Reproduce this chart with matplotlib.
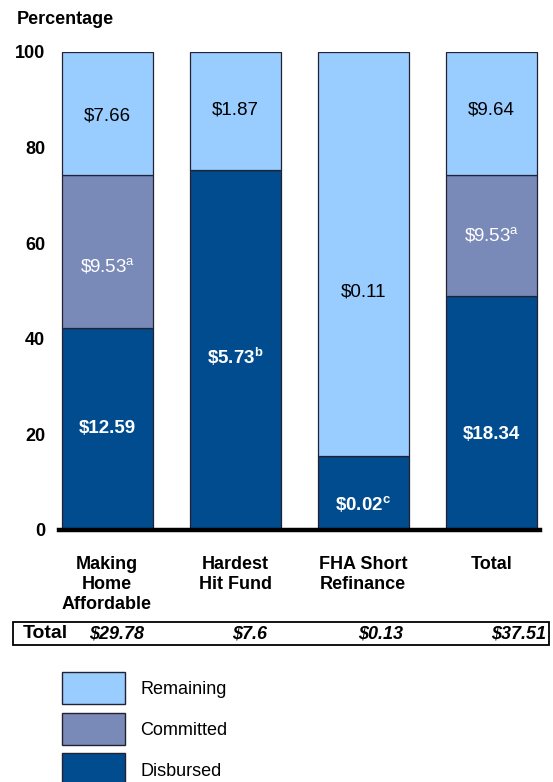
import matplotlib.pyplot as plt
from matplotlib.patches import Rectangle

plt.rcParams['font.family'] = ['Liberation Sans', 'DejaVu Sans']
plt.rcParams['mathtext.fontset'] = 'custom'
plt.rcParams['mathtext.rm'] = 'Liberation Sans'
plt.rcParams['mathtext.bf'] = 'Liberation Sans:bold'

programs = ['Making\nHome\nAffordable', 'Hardest\nHit Fund', 'FHA Short\nRefinance', 'Total']
disbursed = [12.59, 5.73, 0.02, 18.34]
committed = [9.53, 0.0, 0.0, 9.53]
remaining = [7.66, 1.87, 0.11, 9.64]
totals = ['$29.78', '$7.6', '$0.13', '$37.51']
notes_disbursed = ['', 'b', 'c', '']
notes_committed = ['a', '', '', 'a']

c_rem = '#99ccff'
c_com = '#7a8ab8'
c_dis = '#004c8f'

# where each label sits inside its segment (percent)
lab_dis = [21.3, 36.2, 5.2, 19.9]
lab_com = [55.0, None, None, 61.5]
lab_rem = [86.6, 87.9, 49.8, 87.9]


def money(v, note, bold=False):
    s = '\\$%.2f' % v
    if note:
        s += r'$^{\mathbf{%s}}$' % note if bold else r'$^{\mathrm{%s}}$' % note
    return s


fig = plt.figure(figsize=(5.53, 7.82), dpi=100)
ax = fig.add_axes([59 / 553, 252 / 782, 481 / 553, 478 / 782])

x = range(len(programs))
sums = [d + c + r for d, c, r in zip(disbursed, committed, remaining)]
p_dis = [d / s * 100 for d, s in zip(disbursed, sums)]
p_com = [c / s * 100 for c, s in zip(committed, sums)]
p_rem = [r / s * 100 for r, s in zip(remaining, sums)]
b_com = p_dis
b_rem = [a + b for a, b in zip(p_dis, p_com)]

w = 0.71
kw = dict(width=w, edgecolor='#222233', linewidth=0.9)
ax.bar(x, p_dis, color=c_dis, **kw)
ax.bar(x, p_com, bottom=b_com, color=c_com, **kw)
ax.bar(x, p_rem, bottom=b_rem, color=c_rem, **kw)

for i in x:
    ax.text(i, lab_dis[i], money(disbursed[i], notes_disbursed[i], True), ha='center', va='center',
            color='white', fontsize=13.5, fontweight='bold')
    if committed[i] > 0:
        ax.text(i, lab_com[i], money(committed[i], notes_committed[i]), ha='center', va='center',
                color='white', fontsize=13.5)
    ax.text(i, lab_rem[i], money(remaining[i], ''), ha='center', va='center',
            color='black', fontsize=13.5)

ax.set_xlim(-0.375, 3.38)
ax.set_ylim(0, 100)
ax.set_yticks([0, 20, 40, 60, 80, 100])
ax.tick_params(axis='y', length=0, pad=10, labelsize=13)
for lab in ax.get_yticklabels():
    lab.set_fontweight('bold')
ax.set_xticks([])
for s in ['top', 'right', 'left']:
    ax.spines[s].set_visible(False)
ax.spines['bottom'].set_linewidth(3.2)
ax.spines['bottom'].set_color('black')

fig.text(17 / 553, 1 - 19 / 782, 'Percentage', fontsize=13, fontweight='bold', va='center')

# program names under the bars
for i in x:
    ax.annotate(programs[i], (i, 0), xycoords='data', xytext=(0, -19), textcoords='offset points',
                ha='center', va='top', fontsize=13, fontweight='bold', linespacing=1.22)

# totals row
fig.patches.append(Rectangle((13 / 553, 1 - 645 / 782), 536 / 553, 23 / 782,
                             transform=fig.transFigure, fill=False, edgecolor='black', linewidth=1.3))
fig.text(23 / 553, 1 - 634 / 782, 'Total', fontsize=14, fontweight='bold', va='center')
tot_x = [117, 250, 381, 519]
for tx, t in zip(tot_x, totals):
    fig.text(tx / 553, 1 - 634 / 782, t.replace('$', '\\$'), fontsize=13, fontweight='bold',
             style='italic', ha='center', va='center')

# legend
legend_items = [('Remaining', c_rem), ('Committed', c_com), ('Disbursed', c_dis)]
for k, (name, col) in enumerate(legend_items):
    top = 672 + k * 40.5
    fig.patches.append(Rectangle((62 / 553, 1 - (top + 32) / 782), 63 / 553, 32 / 782,
                                 transform=fig.transFigure, facecolor=col, edgecolor='#222233',
                                 linewidth=1.0))
    fig.text(140 / 553, 1 - (top + 18) / 782, name, fontsize=13, va='center')

fig.savefig('out.png', dpi=100)
